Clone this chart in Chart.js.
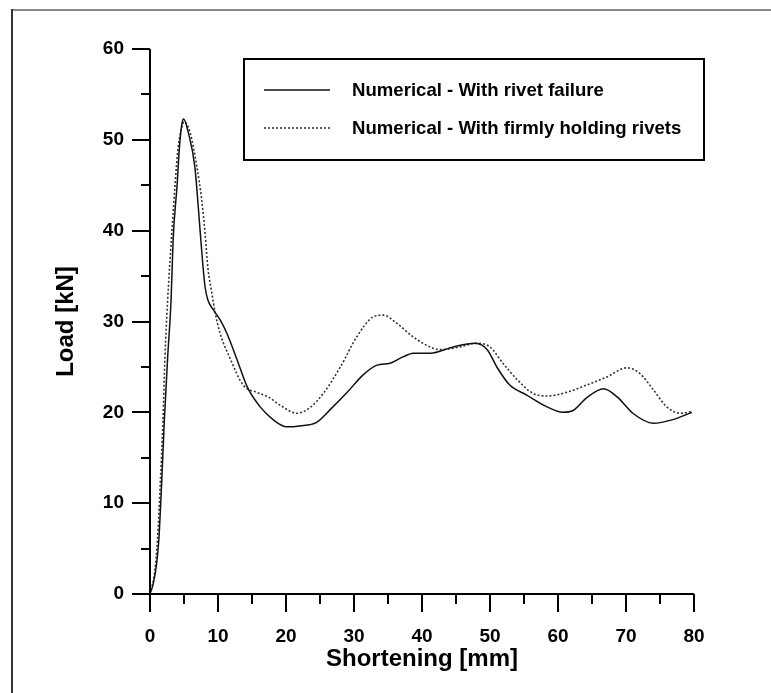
<!DOCTYPE html>
<html>
<head>
<meta charset="utf-8">
<script src="https://cdn.jsdelivr.net/npm/chart.js@4.4.1/dist/chart.umd.min.js"></script>
<style>
  html, body { margin: 0; padding: 0; background: #fff; }
  #wrap { width: 771px; height: 693px; position: relative; }
</style>
</head>
<body>
<div id="wrap"><canvas id="chart" width="771" height="693"></canvas></div>
<script>
// values
const xTicks = [0, 10, 20, 30, 40, 50, 60, 70, 80];
const yTicks = [0, 10, 20, 30, 40, 50, 60];

const failX = [0,0.5,1,1.3,1.7,2.1,2.6,3.1,3.4,4,4.3,4.7,4.95,5.6,6.6,7.1,7.4,7.8,8.1,8.5,9.3,10.3,11.3,12.8,14.3,16.2,18.1,20.1,22,24.5,26.5,29,31.3,33.4,35.3,37.2,38.7,41.2,44.6,47.8,49.6,51,52.9,55.4,58.4,60.7,62.2,64.2,66.7,68.7,71,74,76.9,79.7];
const failY = [0,1.2,3.5,6,12,19,26.1,32.4,39,45.2,48.9,51.8,52.3,50.9,47,42.6,39.7,36,33.8,32.4,31.3,30.2,28.7,25.8,22.8,20.6,19.2,18.4,18.5,18.9,20.3,22.2,24.1,25.2,25.4,26.1,26.5,26.5,27.2,27.6,26.9,25,23,21.9,20.6,20,20.2,21.6,22.6,21.7,19.9,18.8,19.2,20];

const firmX = [0,0.7,1.1,1.5,1.9,2.2,2.6,3.2,3.7,4.1,4.7,5,5.9,6.9,7.6,8.1,8.5,9.1,9.6,10.3,11.8,13.7,15.7,17.4,19.1,21.6,23.5,25.5,28,30.4,32.8,34.3,36.3,38.7,41.2,42.6,45.6,48,50,51.9,54,56.3,58.4,61.3,64.2,67.2,70.1,72,74,76,78,79.7];
const firmY = [0,2.5,6,12,19,26.1,32.4,39.7,45.2,48.9,51.4,52,50.8,47,43.4,39.7,36,33.1,30.9,28.7,25.9,23,22.2,21.7,20.8,19.9,20.5,22.1,25,28.3,30.5,30.7,29.8,28.3,27.2,26.9,27.2,27.6,27.2,25.4,23.6,22.1,21.8,22.2,23,23.9,24.9,24.3,22.5,20.6,19.9,20.1];

const seriesNames = ["Numerical - With rivet failure", "Numerical - With firmly holding rivets"];

function pts(xs, ys) {
  return xs.map((x, i) => ({x: x, y: ys[i]}));
}

const FONT = "'Liberation Sans', Arial, sans-serif";

// frame, axes lines, major/minor ticks, boxed legend
const decor = {
  id: "decor",
  beforeDraw(chart) {
    const ctx = chart.ctx;
    ctx.save();
    ctx.lineWidth = 2;
    ctx.strokeStyle = "#888";
    ctx.beginPath(); ctx.moveTo(12, 10); ctx.lineTo(771, 10); ctx.stroke();
    ctx.strokeStyle = "#333";
    ctx.beginPath(); ctx.moveTo(12, 9); ctx.lineTo(12, 693); ctx.stroke();
    ctx.restore();
  },
  afterDraw(chart) {
    const ctx = chart.ctx;
    const xs = chart.scales.x, ys = chart.scales.y;
    const a = chart.chartArea;
    ctx.save();
    ctx.strokeStyle = "#000";
    ctx.lineWidth = 2;
    ctx.beginPath();
    ctx.moveTo(a.left, a.top); ctx.lineTo(a.left, a.bottom); ctx.lineTo(a.right, a.bottom);
    ctx.stroke();
    for (let v = 0; v <= 80; v += 5) {
      const p = Math.round(xs.getPixelForValue(v));
      const len = v % 10 === 0 ? 18 : 10;
      ctx.beginPath(); ctx.moveTo(p, a.bottom); ctx.lineTo(p, a.bottom + len); ctx.stroke();
    }
    for (let v = 0; v <= 60; v += 5) {
      const p = Math.round(ys.getPixelForValue(v));
      const len = v % 10 === 0 ? 18 : 9;
      ctx.beginPath(); ctx.moveTo(a.left, p); ctx.lineTo(a.left - len, p); ctx.stroke();
    }
    // legend box
    ctx.strokeRect(244, 59, 460, 101);
    const rows = [90, 128];
    chart.data.datasets.forEach((ds, i) => {
      ctx.strokeStyle = ds.borderColor;
      ctx.lineWidth = ds.borderWidth;
      ctx.setLineDash(ds.borderDash || []);
      ctx.beginPath(); ctx.moveTo(264, rows[i]); ctx.lineTo(330, rows[i]); ctx.stroke();
      ctx.setLineDash([]);
      ctx.fillStyle = "#000";
      ctx.font = "bold 18.6px " + FONT;
      ctx.textBaseline = "middle";
      ctx.fillText(ds.label, 352, rows[i] + 1);
    });
    ctx.restore();
  }
};

new Chart(document.getElementById("chart"), {
  type: "scatter",
  data: {
    datasets: [
      {
        label: seriesNames[0],
        data: pts(failX, failY),
        showLine: true,
        borderColor: "#111",
        borderWidth: 1.5,
        pointRadius: 0,
        cubicInterpolationMode: "monotone"
      },
      {
        label: seriesNames[1],
        data: pts(firmX, firmY),
        showLine: true,
        borderColor: "#333",
        borderWidth: 1.6,
        borderDash: [2, 2],
        pointRadius: 0,
        cubicInterpolationMode: "monotone"
      }
    ]
  },
  options: {
    responsive: false,
    animation: false,
    layout: { padding: { left: 0, right: 77, top: 49, bottom: 0 } },
    plugins: { legend: { display: false }, tooltip: { enabled: false } },
    scales: {
      x: {
        type: "linear",
        min: 0, max: 80,
        afterFit(s) { s.height = 99; },
        afterBuildTicks(s) { s.ticks = xTicks.map(v => ({value: v})); },
        grid: { display: false, drawTicks: false },
        border: { display: false },
        ticks: { padding: 31, color: "#000", font: { family: FONT, size: 19, weight: "bold" }, maxRotation: 0 },
        title: { display: true, text: "Shortening [mm]", color: "#000", padding: { top: 0, bottom: 19 },
                 font: { family: FONT, size: 24, weight: "bold" } }
      },
      y: {
        type: "linear",
        min: 0, max: 60,
        afterFit(s) { s.width = 150; },
        afterBuildTicks(s) { s.ticks = yTicks.map(v => ({value: v})); },
        grid: { display: false, drawTicks: false },
        border: { display: false },
        ticks: { padding: 26, color: "#000", font: { family: FONT, size: 19, weight: "bold" } },
        title: { display: true, text: "Load [kN]", color: "#000", padding: { top: 52, bottom: 0 },
                 font: { family: FONT, size: 24, weight: "bold" } }
      }
    }
  },
  plugins: [decor]
});
</script>
</body>
</html>
